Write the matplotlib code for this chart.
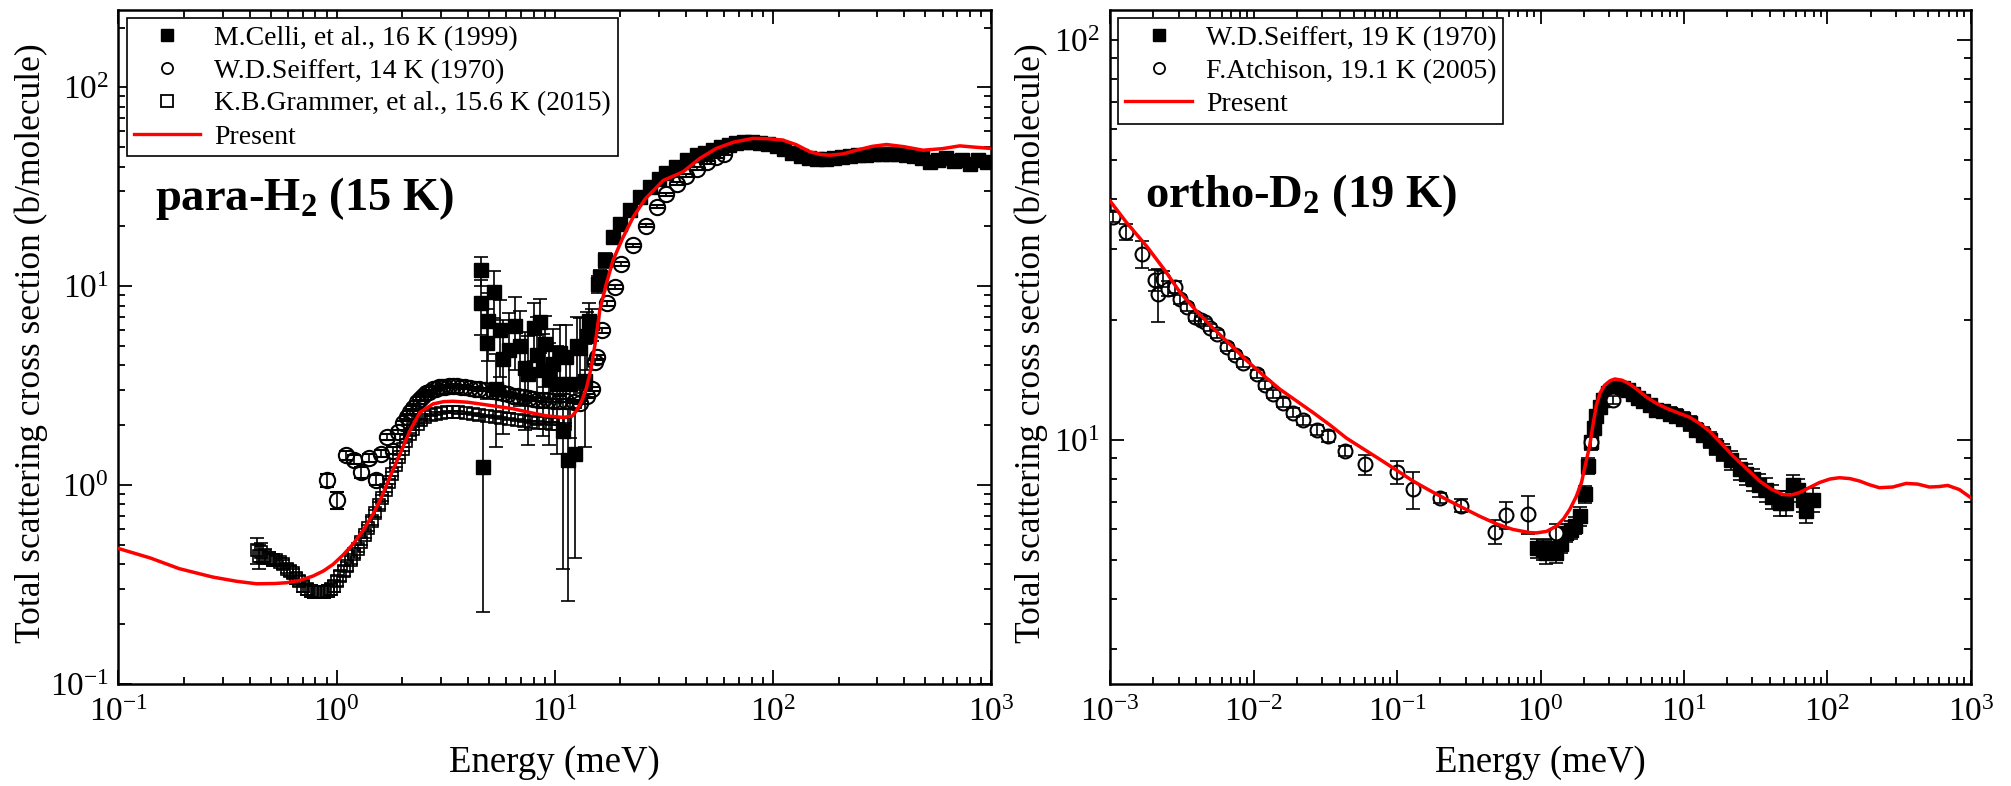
import matplotlib
matplotlib.use('Agg')
import matplotlib.pyplot as plt
from matplotlib.lines import Line2D
from matplotlib.ticker import LogLocator, NullFormatter

# Fuente tipo Times
plt.rcParams['font.family'] = ['Liberation Serif', 'DejaVu Serif']
plt.rcParams['mathtext.fontset'] = 'custom'
plt.rcParams['mathtext.rm'] = 'Liberation Serif'
plt.rcParams['mathtext.it'] = 'Liberation Serif:italic'
plt.rcParams['mathtext.bf'] = 'Liberation Serif:bold'

# ---------------- para-H2 (15 K) ----------------
# Present (curva roja)
h2_calc_e = [0.1, 0.14, 0.19, 0.27, 0.35, 0.43, 0.52, 0.59, 0.68, 0.78, 0.87, 0.965, 1.07, 1.19, 1.32,
             1.47, 1.6, 1.75, 1.95, 2.17, 2.41, 2.77, 3.1, 3.42, 4.0, 4.54, 5.4, 6.45, 7.8, 9.16, 10.9,
             12.0, 12.6, 13.3, 14.0, 14.7, 15.3, 16.1, 17.2, 18.5, 20.5, 22.9, 26.0, 31.4, 38.7, 46.2,
             55.0, 66.0, 81.0, 95.0, 111.0, 128.0, 148.0, 165.0, 182.0, 210.0, 242.0, 285.0, 332.0,
             400.0, 488.0, 600.0, 719.0, 850.0, 1000.0]
h2_calc_s = [0.48, 0.43, 0.38, 0.345, 0.328, 0.319, 0.32, 0.323, 0.332, 0.349, 0.37, 0.40, 0.445, 0.505, 0.59,
             0.715, 0.86, 1.09, 1.43, 1.88, 2.32, 2.56, 2.63, 2.64, 2.61, 2.56, 2.49, 2.42, 2.31, 2.23, 2.19,
             2.22, 2.37, 2.65, 3.1, 3.9, 5.1, 7.6, 10.2, 13.5, 17.5, 22.3, 27.5, 34.0, 37.6, 43.9,
             49.3, 53.0, 55.4, 55.2, 54.3, 51.5, 47.4, 46.0, 45.6, 46.3, 48.3, 50.5, 51.6,
             50.3, 48.3, 49.2, 50.8, 50.0, 49.3]

# K.B.Grammer, et al., 15.6 K (2015)
gram_e = [0.43, 0.44, 0.45, 0.47, 0.49, 0.51, 0.53, 0.55, 0.57, 0.59, 0.61, 0.63, 0.65, 0.67, 0.70, 0.73,
          0.76, 0.79, 0.82, 0.85, 0.88, 0.91, 0.94, 0.97, 1.00, 1.04, 1.08, 1.12, 1.16, 1.20, 1.25, 1.30,
          1.35, 1.40, 1.45, 1.50, 1.56, 1.62, 1.68, 1.74, 1.80, 1.87, 1.94, 2.01, 2.09, 2.17, 2.25, 2.35,
          2.45, 2.55, 2.70, 2.85, 3.0, 3.2, 3.4, 3.6, 3.9, 4.2, 4.5, 4.9, 5.3, 5.7, 6.2, 6.7, 7.2, 7.8,
          8.4, 9.0, 9.7, 10.4, 11.2]
gram_s = [0.47, 0.44, 0.46, 0.44, 0.43, 0.42, 0.42, 0.41, 0.40, 0.38, 0.37, 0.36, 0.34, 0.33, 0.31, 0.30,
          0.295, 0.29, 0.29, 0.29, 0.29, 0.295, 0.30, 0.31, 0.33, 0.35, 0.37, 0.39, 0.42, 0.45, 0.48, 0.52,
          0.56, 0.61, 0.66, 0.72, 0.79, 0.86, 0.95, 1.04, 1.14, 1.26, 1.38, 1.52, 1.67, 1.80, 1.92, 2.03,
          2.12, 2.19, 2.25, 2.29, 2.31, 2.33, 2.33, 2.32, 2.30, 2.28, 2.26, 2.23, 2.20, 2.18, 2.15, 2.12,
          2.10, 2.08, 2.06, 2.05, 2.04, 2.03, 2.02]
gram_err = [0.07, 0.06, 0.05, 0.04, 0.03, 0.03, 0.02, 0.02, 0.02, 0.02, 0.02, 0.02, 0.02, 0.02, 0.02, 0.02,
            0.02, 0.02, 0.02, 0.02, 0.02, 0.02, 0.02, 0.02, 0.02, 0.02, 0.02, 0.02, 0.02, 0.02, 0.02, 0.02,
            0.02, 0.02, 0.03, 0.03, 0.03, 0.03, 0.03, 0.03, 0.03, 0.03, 0.03, 0.03, 0.03, 0.03, 0.03, 0.03,
            0.03, 0.03, 0.03, 0.03, 0.03, 0.03, 0.03, 0.03, 0.03, 0.03, 0.03, 0.03, 0.03, 0.03, 0.03, 0.03,
            0.03, 0.03, 0.03, 0.03, 0.03, 0.03, 0.03]

# W.D.Seiffert, 14 K (1970)
seif_h2_e = [0.90, 1.00, 1.10, 1.20, 1.30, 1.41, 1.51, 1.60, 1.71, 1.81, 1.92, 2.01, 2.10, 2.17, 2.25, 2.33,
             2.41, 2.50, 2.58, 2.65, 2.77, 2.86, 2.95, 3.05, 3.15, 3.28, 3.42, 3.55, 3.7, 3.88, 4.08, 4.3,
             4.5, 4.8, 5.22, 5.5, 5.8, 6.1, 6.45, 6.8, 7.2, 7.6, 7.96, 8.4, 8.8, 9.3, 9.84, 10.5, 11.3,
             12.2, 13.0, 14.0, 14.8, 15.3, 15.6, 16.4, 17.3, 18.9, 20.2, 22.9, 26.3, 29.3, 32.5, 36.2,
             40.0, 44.7, 50.0, 55.0, 60.0]
seif_h2_s = [1.06, 0.84, 1.41, 1.34, 1.16, 1.37, 1.06, 1.44, 1.74, 1.49, 1.85, 2.05, 2.2, 2.32, 2.45, 2.61,
             2.72, 2.82, 2.9, 2.95, 3.05, 3.06, 3.10, 3.12, 3.13, 3.15, 3.16, 3.14, 3.12, 3.1, 3.08, 3.06,
             3.04, 3.02, 2.99, 2.95, 2.9, 2.86, 2.82, 2.8, 2.76, 2.73, 2.71, 2.69, 2.68, 2.67, 2.66, 2.66, 2.66,
             2.63, 2.6, 2.8, 3.05, 4.15, 4.4, 6.0, 8.2, 9.9, 13.0, 16.1, 20.2, 25.1, 29.0, 32.8,
             36.0, 39.0, 42.0, 44.7, 46.5]
seif_h2_err = [0.08, 0.08, 0.08, 0.07, 0.07, 0.07, 0.06, 0.06, 0.06, 0.06, 0.05, 0.05, 0.05, 0.05, 0.05, 0.05,
               0.05, 0.05, 0.05, 0.05, 0.05, 0.05, 0.05, 0.05, 0.05, 0.05, 0.05, 0.05, 0.05, 0.05, 0.05, 0.05,
               0.05, 0.05, 0.05, 0.05, 0.05, 0.05, 0.05, 0.05, 0.05, 0.05, 0.05, 0.05, 0.05, 0.05, 0.05, 0.05, 0.05,
               0.05, 0.05, 0.06, 0.08, 0.1, 0.1, 0.15, 0.2, 0.2, 0.3, 0.3, 0.4, 0.5, 0.5, 0.6,
               0.6, 0.7, 0.7, 0.8, 0.8]

# M.Celli, et al., 16 K (1999)
celli_e = [4.58, 4.6, 4.7, 4.9, 4.95, 5.27, 5.4, 5.6, 5.8, 6.2, 6.56, 6.9, 7.3, 7.55, 8.0, 8.3, 8.55, 8.86,
           9.0, 9.4, 9.84, 10.2, 10.6, 10.9, 11.3, 11.5, 11.7, 12.4, 12.6, 13.0, 13.7, 14.0, 14.4, 14.8,
           15.8, 16.1, 17.0, 18.5, 20.0, 22.1, 24.5, 27.3, 30.0, 32.5, 36.0, 40.2, 45.0, 49.0, 53.2, 58.0,
           63.0, 68.0, 74.0, 80.0, 87.0, 95.0, 104.0, 113.0, 123.0, 134.0, 146.0, 160.0, 175.0, 190.0,
           207.0, 225.0, 245.0, 267.0, 290.0, 316.0, 344.0, 375.0, 408.0, 444.0, 483.0, 526.0, 573.0,
           624.0, 679.0, 739.0, 805.0, 876.0, 954.0]
celli_s = [12.0, 8.2, 1.23, 5.2, 6.7, 9.4, 3.05, 6.0, 4.3, 4.8, 6.3, 5.0, 3.9, 3.6, 6.2, 4.5, 6.6, 3.77,
           5.1, 3.4, 4.07, 3.23, 4.6, 1.88, 4.4, 1.33, 3.23, 1.43, 5.0, 4.9, 3.35, 5.6, 6.7, 6.5,
           10.3, 11.1, 13.5, 17.7, 20.5, 24.1, 28.0, 31.6, 34.5, 36.9, 40.0, 43.0, 45.5, 47.0, 48.5, 50.0,
           51.5, 52.5, 53.0, 53.0, 52.5, 52.0, 50.5, 49.0, 47.0, 45.0, 44.0, 43.5, 43.5, 44.0,
           44.5, 45.0, 45.5, 45.5, 46.0, 46.0, 46.5, 46.0, 45.5, 45.0, 44.0, 42.0, 43.0,
           44.0, 42.5, 43.0, 41.0, 43.0, 42.0]
celli_err = [2.0, 2.5, 1.0, 2.5, 2.5, 2.5, 1.5, 2.5, 2.5, 2.5, 2.5, 2.5, 2.0, 2.0, 2.0, 2.5, 2.0, 2.0,
             2.0, 1.8, 2.0, 1.8, 1.8, 1.5, 2.0, 1.07, 1.5, 1.0, 2.0, 2.0, 1.8, 1.8, 1.5, 1.2,
             1.0, 1.0, 1.2, 1.2, 1.2, 1.5, 1.5, 1.5, 1.5, 1.5, 1.5, 1.5, 1.5, 1.5, 1.5, 1.5,
             1.5, 1.5, 1.5, 1.5, 1.5, 1.5, 1.5, 1.5, 1.5, 1.5, 1.5, 1.5, 1.5, 1.5,
             1.5, 1.5, 1.5, 1.5, 1.5, 1.5, 1.5, 1.5, 1.5, 1.5, 1.5, 1.5, 1.5,
             1.5, 1.5, 1.5, 1.5, 1.5, 1.5]

# ---------------- ortho-D2 (19 K) ----------------
d2_calc_e = [0.001, 0.0013, 0.0018, 0.0024, 0.00307, 0.004, 0.00524, 0.0069, 0.00893, 0.0117, 0.0152, 0.02,
             0.026, 0.034, 0.0444, 0.058, 0.0758, 0.099, 0.129, 0.168, 0.22, 0.29, 0.376, 0.5, 0.64, 0.84,
             0.936, 1.1, 1.29, 1.45, 1.6, 1.77, 1.93, 2.06, 2.2, 2.33, 2.45, 2.6, 2.8, 3.05, 3.29, 3.7, 4.18,
             4.8, 5.46, 6.4, 7.53, 9.0, 10.9, 12.8, 15.1, 18.2, 21.9, 27.0, 33.6, 40.0, 48.8, 56.0, 63.8,
             75.0, 88.0, 104.0, 121.0, 143.0, 167.0, 196.0, 230.0, 285.0, 353.0, 425.0, 513.0, 600.0, 688.0,
             830.0, 1000.0]
d2_calc_s = [39.6, 35.0, 30.5, 26.6, 23.4, 21.0, 19.0, 17.3, 15.8, 14.5, 13.4, 12.5,
             11.7, 10.9, 10.1, 9.5, 8.94, 8.4, 7.89, 7.48, 7.10, 6.75, 6.44, 6.15, 5.97, 5.86,
             5.85, 5.9, 6.08, 6.35, 6.70, 7.2, 7.82, 8.7, 9.66, 11.0, 12.2, 13.1, 13.7, 14.05, 14.2, 14.1, 13.8,
             13.3, 12.8, 12.35, 12.0, 11.7, 11.4, 11.0, 10.5, 9.8, 9.12, 8.5, 7.89, 7.55, 7.30, 7.28, 7.38,
             7.6, 7.82, 7.98, 8.04, 8.0, 7.89, 7.72, 7.59, 7.62, 7.78, 7.75, 7.62, 7.64, 7.69,
             7.51, 7.16]

# W.D.Seiffert, 19 K (1970)
seif_d2_e = [0.94, 1.04, 1.1, 1.18, 1.29, 1.4, 1.51, 1.64, 1.75, 1.87, 2.03, 2.14, 2.26, 2.35, 2.45, 2.58,
             2.72, 2.95, 3.2, 3.45, 3.76, 4.05, 4.41, 4.8, 5.17, 5.8, 6.41, 7.1, 7.94, 8.8, 9.83, 11.0,
             12.2, 13.6, 15.1, 16.8, 18.7, 21.3, 24.4, 27.0, 30.2, 33.5, 37.4, 41.0, 46.3, 51.0, 57.3,
             62.0, 67.3, 71.1, 79.0]
seif_d2_s = [5.36, 5.31, 5.2, 5.35, 5.21, 5.5, 5.85, 5.96, 6.1, 6.44, 7.3, 8.6, 9.85, 10.7, 11.5, 12.1,
             12.6, 13.1, 13.4, 13.5, 13.5, 13.3, 13.0, 12.7, 12.5, 12.2, 11.9, 11.8, 11.6, 11.5, 11.3, 11.0,
             10.6, 10.3, 10.0, 9.6, 9.29, 8.9, 8.44, 8.2, 7.96, 7.7, 7.51, 7.2, 6.96, 6.96, 7.73,
             7.5, 7.09, 6.64, 7.09]
seif_d2_err = [0.3, 0.3, 0.3, 0.3, 0.3, 0.3, 0.3, 0.3, 0.3, 0.35, 0.35, 0.4, 0.4, 0.4, 0.4, 0.4,
               0.4, 0.4, 0.4, 0.4, 0.4, 0.4, 0.4, 0.4, 0.4, 0.4, 0.4, 0.4, 0.45, 0.45, 0.45, 0.45,
               0.45, 0.45, 0.45, 0.45, 0.45, 0.5, 0.5, 0.5, 0.5, 0.5, 0.5, 0.5, 0.5, 0.5, 0.45,
               0.5, 0.5, 0.45, 0.5]

# F.Atchison, 19.1 K (2005)
atch_e = [0.00105, 0.0013, 0.00166, 0.00206, 0.00217, 0.00235, 0.00255, 0.00284, 0.00307, 0.00342, 0.0039,
          0.0043, 0.00459, 0.005, 0.00553, 0.0065, 0.00742, 0.00848, 0.0105, 0.012, 0.0137, 0.0161, 0.0189,
          0.0222, 0.0275, 0.0331, 0.0432, 0.0597, 0.1, 0.129, 0.2, 0.28, 0.479, 0.571, 0.818, 1.29, 2.26, 3.2]
atch_s = [36.1, 33.1, 29.2, 25.1, 23.2, 25.3, 23.9, 24.1, 22.5, 21.5, 20.3,
          19.9, 19.7, 19.1, 18.4, 17.1, 16.3, 15.6, 14.6, 13.7, 13.0, 12.4, 11.7,
          11.2, 10.6, 10.2, 9.38, 8.68, 8.31, 7.52, 7.16, 6.85, 5.89, 6.49, 6.53, 5.85, 9.85, 12.6]
atch_err = [1.0, 1.5, 2.3, 1.5, 3.5, 1.2, 1.0, 0.8, 0.6, 0.5, 0.5,
            0.4, 0.4, 0.4, 0.4, 0.4, 0.35, 0.35, 0.35, 0.3, 0.3, 0.3, 0.3,
            0.3, 0.3, 0.3, 0.25, 0.5, 0.55, 0.8, 0.2, 0.25, 0.4, 0.5, 0.7, 0.3, 0.3, 0.3]

fig = plt.figure(figsize=(20.11, 7.86), dpi=100)
ax1 = fig.add_axes([0.0589, 0.1298, 0.4339, 0.8575])
ax2 = fig.add_axes([0.552, 0.1298, 0.4281, 0.8575])

eb = dict(ls='none', ecolor='k', elinewidth=1.2, capsize=5, capthick=1.2)

# Panel izquierdo
ax1.errorbar(gram_e, gram_s, yerr=gram_err, fmt='s', ms=8, mfc='none', mec='k', mew=1.2, **eb)
ax1.errorbar(seif_h2_e, seif_h2_s, yerr=seif_h2_err, fmt='o', ms=11, mfc='none', mec='k', mew=1.5, **eb)
ax1.errorbar(celli_e, celli_s, yerr=celli_err, fmt='s', ms=10, mfc='k', mec='k', **eb)
ax1.plot(h2_calc_e, h2_calc_s, color='red', lw=2.5, zorder=5)

# Panel derecho
ax2.errorbar(seif_d2_e, seif_d2_s, yerr=seif_d2_err, fmt='s', ms=10, mfc='k', mec='k', **eb)
ax2.plot(atch_e, atch_s, 'o', ms=10, mfc='white', mec='k', mew=1.5, zorder=3)
ax2.errorbar(atch_e, atch_s, yerr=atch_err, fmt='none', zorder=3.5, **eb)
ax2.plot(d2_calc_e, d2_calc_s, color='red', lw=2.5, zorder=5)

for ax in (ax1, ax2):
    ax.set_xscale('log')
    ax.set_yscale('log')
    ax.xaxis.set_minor_locator(LogLocator(base=10, subs=range(2, 10), numticks=20))
    ax.yaxis.set_minor_locator(LogLocator(base=10, subs=range(2, 10), numticks=20))
    ax.xaxis.set_minor_formatter(NullFormatter())
    ax.yaxis.set_minor_formatter(NullFormatter())
    ax.tick_params(which='both', direction='in', top=True, right=True, width=1.3, labelsize=24)
    ax.tick_params(which='major', length=10)
    ax.tick_params(which='minor', length=5)
    ax.tick_params(axis='x', which='major', pad=10)
    ax.tick_params(axis='y', which='major', pad=7)
    for sp in ax.spines.values():
        sp.set_linewidth(1.8)
    ax.set_xlabel('Energy (meV)', fontsize=26.5, labelpad=12)
    ax.set_ylabel('Total scattering cross section (b/molecule)', fontsize=25.5)

ax1.set_xlim(0.1, 1000)
ax1.set_ylim(0.1, 245)
ax2.set_xlim(0.001, 1000)
ax2.set_ylim(2.45, 119)
ax1.yaxis.set_label_coords(-0.081, 0.506)
ax2.yaxis.set_label_coords(-0.072, 0.506)

ax1.text(0.042, 0.72, r'para-H$_\mathbf{2}$ (15 K)', transform=ax1.transAxes,
         fontsize=33.5, fontweight='bold', va='center')
ax2.text(0.041, 0.725, r'ortho-D$_\mathbf{2}$ (19 K)', transform=ax2.transAxes,
         fontsize=33.5, fontweight='bold', va='center')

# Leyendas
h_sq = Line2D([], [], ls='none', marker='s', ms=8, mfc='k', mec='k')
h_ci = Line2D([], [], ls='none', marker='o', ms=8, mfc='none', mec='k', mew=1.3)
h_os = Line2D([], [], ls='none', marker='s', ms=8, mfc='none', mec='k', mew=1.3)
h_ln = Line2D([], [], color='red', lw=2.4)

leg_kw = dict(loc='upper left', fontsize=20, frameon=True, fancybox=False, edgecolor='k',
              framealpha=1, borderpad=0.25, labelspacing=0.27, handlelength=2.4,
              handletextpad=0.5, borderaxespad=0.3)
l1 = ax1.legend([h_sq, h_ci, h_os, h_ln],
                ['M.Celli, et al., 16 K (1999)', 'W.D.Seiffert, 14 K (1970)',
                 'K.B.Grammer, et al., 15.6 K (2015)', 'Present'], **leg_kw)
l2 = ax2.legend([h_sq, h_ci, h_ln],
                ['W.D.Seiffert, 19 K (1970)', 'F.Atchison, 19.1 K (2005)', 'Present'], **leg_kw)
for l in (l1, l2):
    l.get_frame().set_linewidth(1.2)

fig.savefig('out.png', dpi=100)
